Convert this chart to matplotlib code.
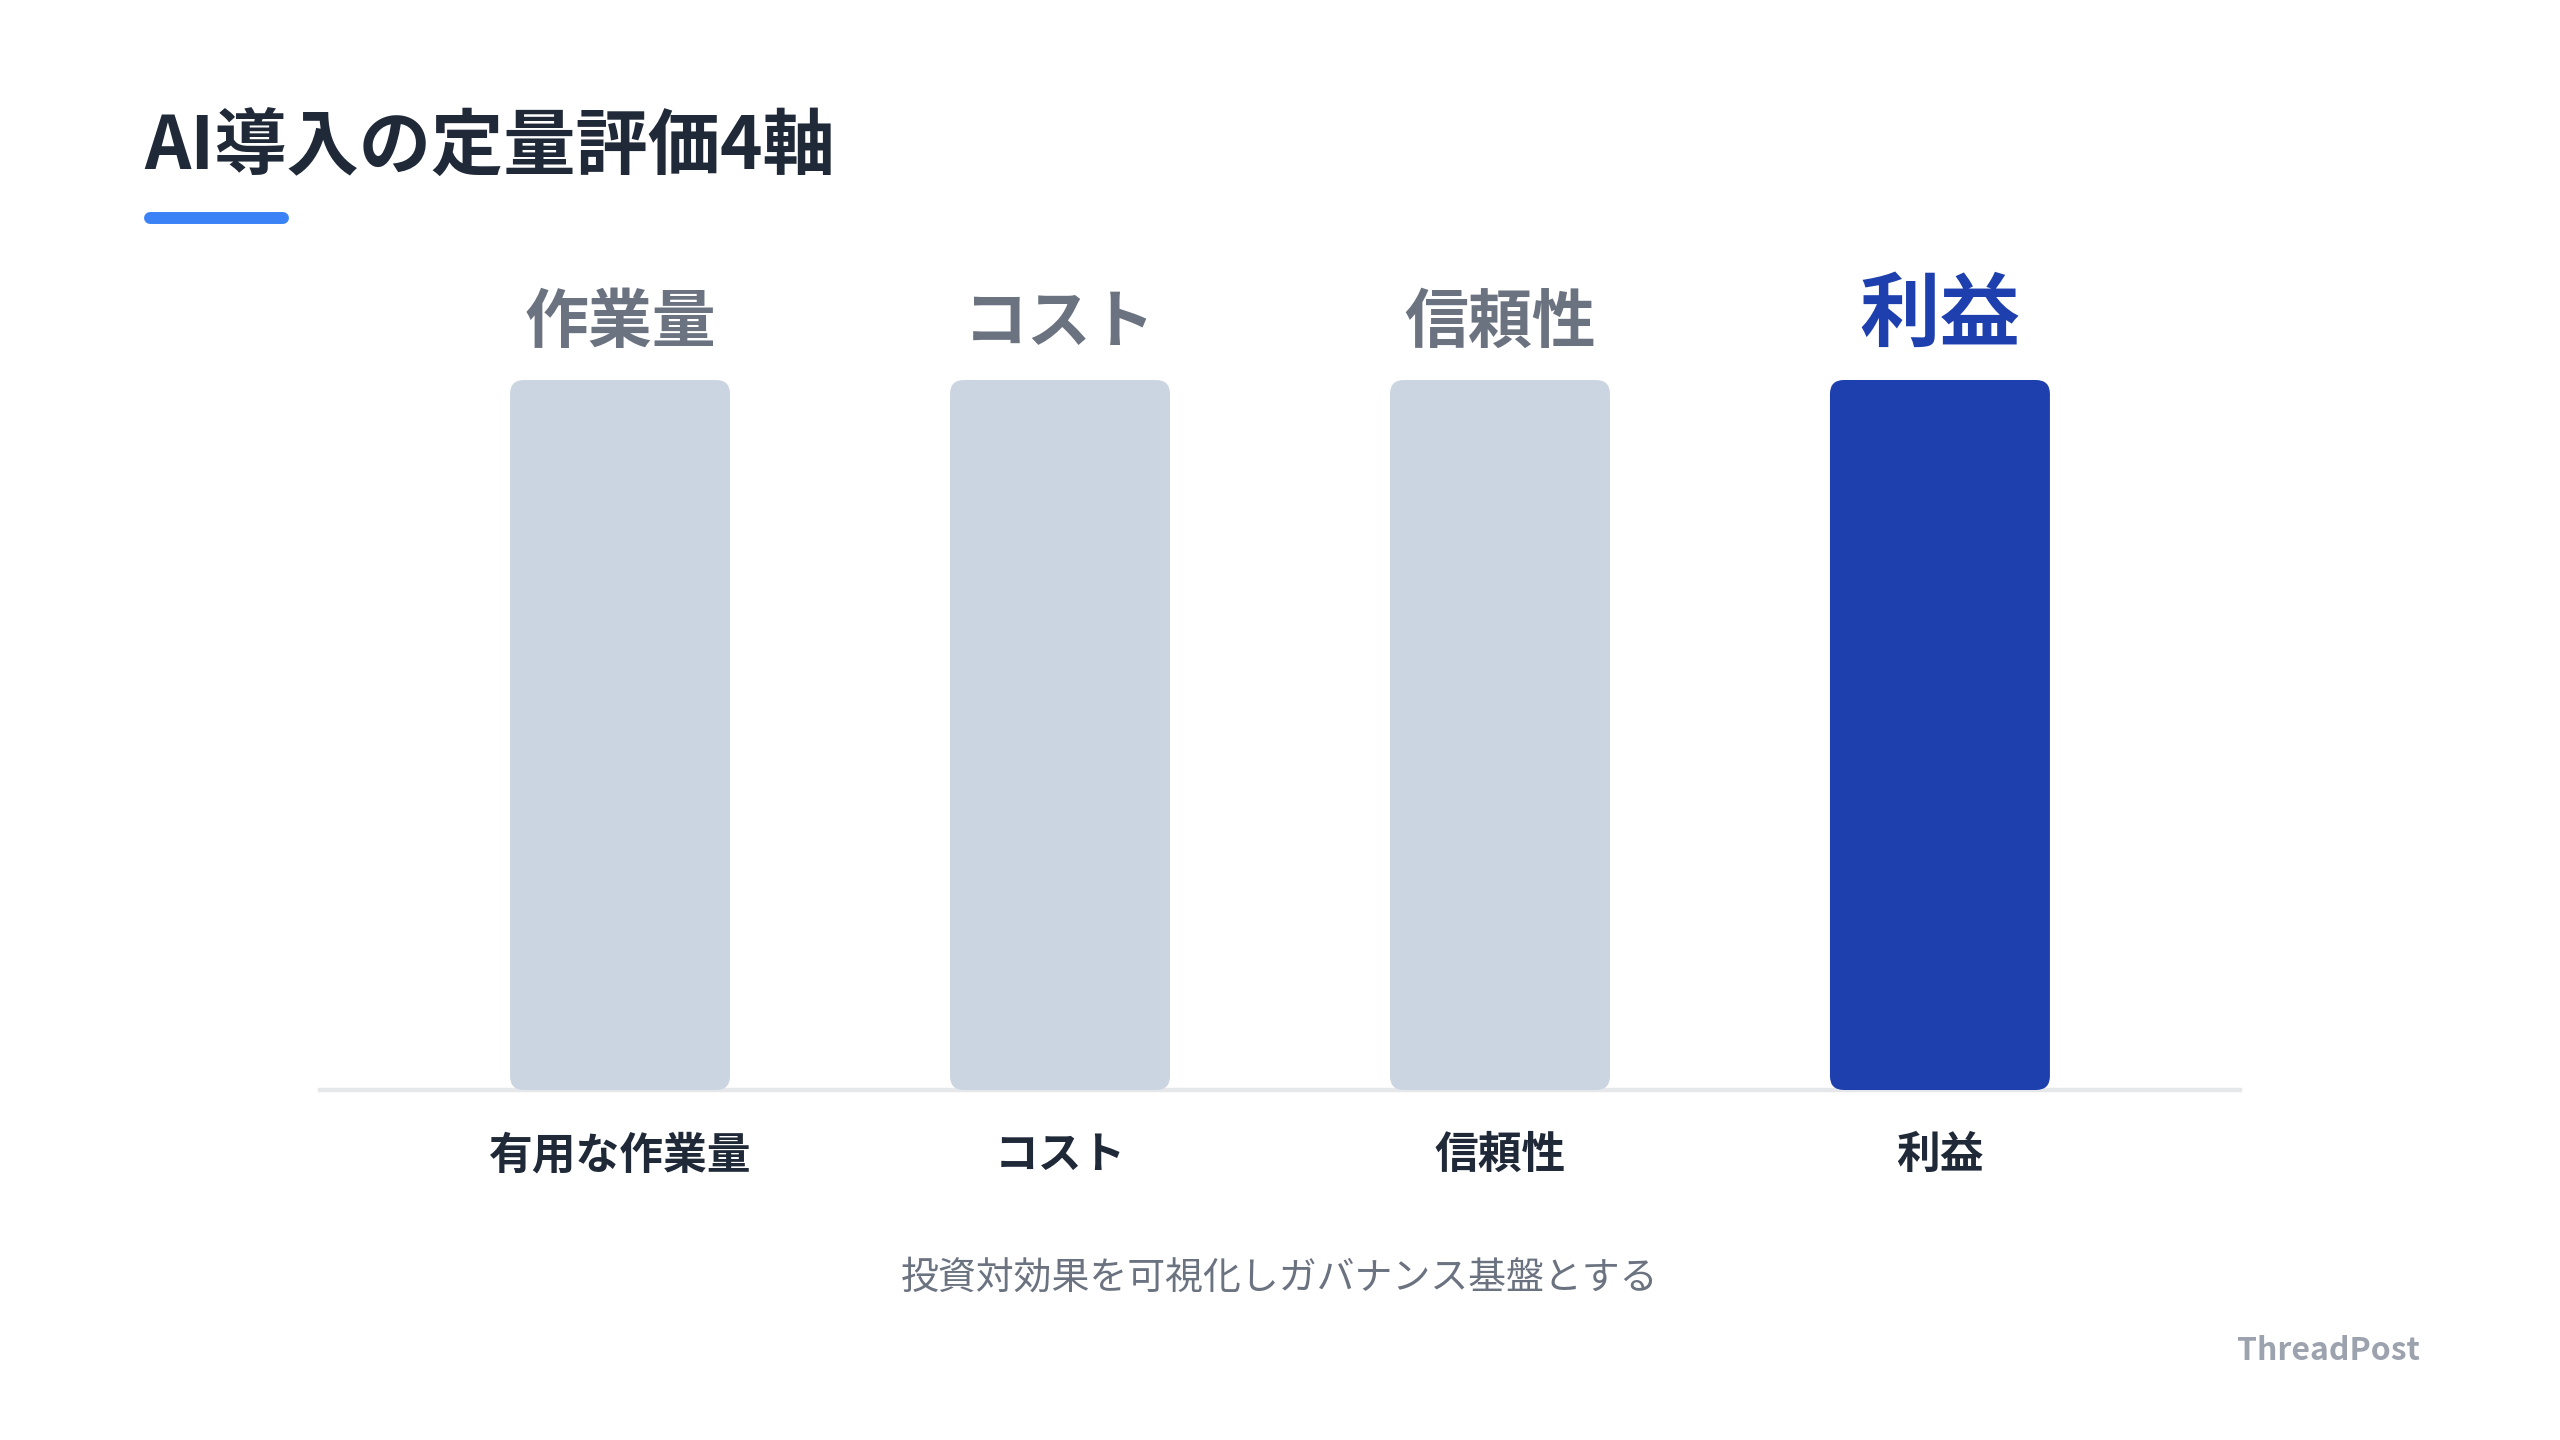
import matplotlib
matplotlib.use('Agg')
import matplotlib.pyplot as plt
from matplotlib.patches import FancyBboxPatch

plt.rcParams['font.family'] = ['Noto Sans CJK JP', 'DejaVu Sans']

# data
categories = ['有用な作業量', 'コスト', '信頼性', '利益']
top_labels = ['作業量', 'コスト', '信頼性', '利益']
values = [100, 100, 100, 100]
highlight = 3

title = 'AI導入の定量評価4軸'
subtitle = '投資対効果を可視化しガバナンス基盤とする'
brand = 'ThreadPost'

W, H = 2560, 1440
fig = plt.figure(figsize=(25.6, 14.4), dpi=100)
fig.patch.set_facecolor('white')

# title + accent underline
fig.text(144 / W, 1 - 149 / H, title, fontsize=52, fontweight='bold',
         color='#1f2937', ha='left', va='center')
fig.add_artist(plt.Line2D([150 / W, 283 / W], [1 - 218 / H, 1 - 218 / H],
                          color='#3b82f6', linewidth=8.6,
                          solid_capstyle='round', transform=fig.transFigure))

# axes
left, right = 320 / W, 2240 / W
bottom, top = 1 - 1090 / H, 1 - 380 / H
ax = fig.add_axes([left, bottom, right - left, top - bottom])
ax.set_xlim(-0.682, len(categories) - 1 + 0.682)
ax.set_ylim(0, max(values))
ax.axis('off')

ax.axhline(0, color='#e5e7eb', linewidth=3.2, zorder=1, clip_on=False)

x = list(range(len(categories)))
bars = ax.bar(x, values, width=0.5, color='none', edgecolor='none')

# pixel scale for rounded corners
x_per_px = (ax.get_xlim()[1] - ax.get_xlim()[0]) / ((right - left) * W)
y_per_px = (ax.get_ylim()[1] - ax.get_ylim()[0]) / ((top - bottom) * H)
aspect = y_per_px / x_per_px
radius = 14 * x_per_px

for i, b in enumerate(bars):
    color = '#1e40af' if i == highlight else '#cbd5e1'
    patch = FancyBboxPatch((b.get_x(), b.get_y()), b.get_width(), b.get_height(),
                           boxstyle=f'round,pad=0,rounding_size={radius}',
                           mutation_aspect=aspect, facecolor=color,
                           edgecolor='none', zorder=2, clip_on=False)
    ax.add_patch(patch)
    b.remove()

    if i == highlight:
        ax.annotate(top_labels[i], (x[i], values[i]), xytext=(0, 45.5),
                    textcoords='offset points', ha='center', va='center',
                    fontsize=58, fontweight='bold', color='#1e40af',
                    annotation_clip=False)
    else:
        ax.annotate(top_labels[i], (x[i], values[i]), xytext=(0, 41),
                    textcoords='offset points', ha='center', va='center',
                    fontsize=46, fontweight='bold', color='#6b7280',
                    annotation_clip=False)

    ax.annotate(categories[i], (x[i], 0), xytext=(0, -47),
                textcoords='offset points', ha='center', va='center',
                fontsize=31.5, fontweight='bold', color='#1f2937',
                annotation_clip=False)

fig.text((left + right) / 2, 1 - 1278 / H, subtitle, fontsize=27.3,
         color='#6b7280', ha='center', va='center')
fig.text(2420 / W, 1 - 1351 / H, brand, fontsize=23, fontweight='bold',
         color='#9ca3af', ha='right', va='center')

fig.savefig('out.png', dpi=100, facecolor='white')
